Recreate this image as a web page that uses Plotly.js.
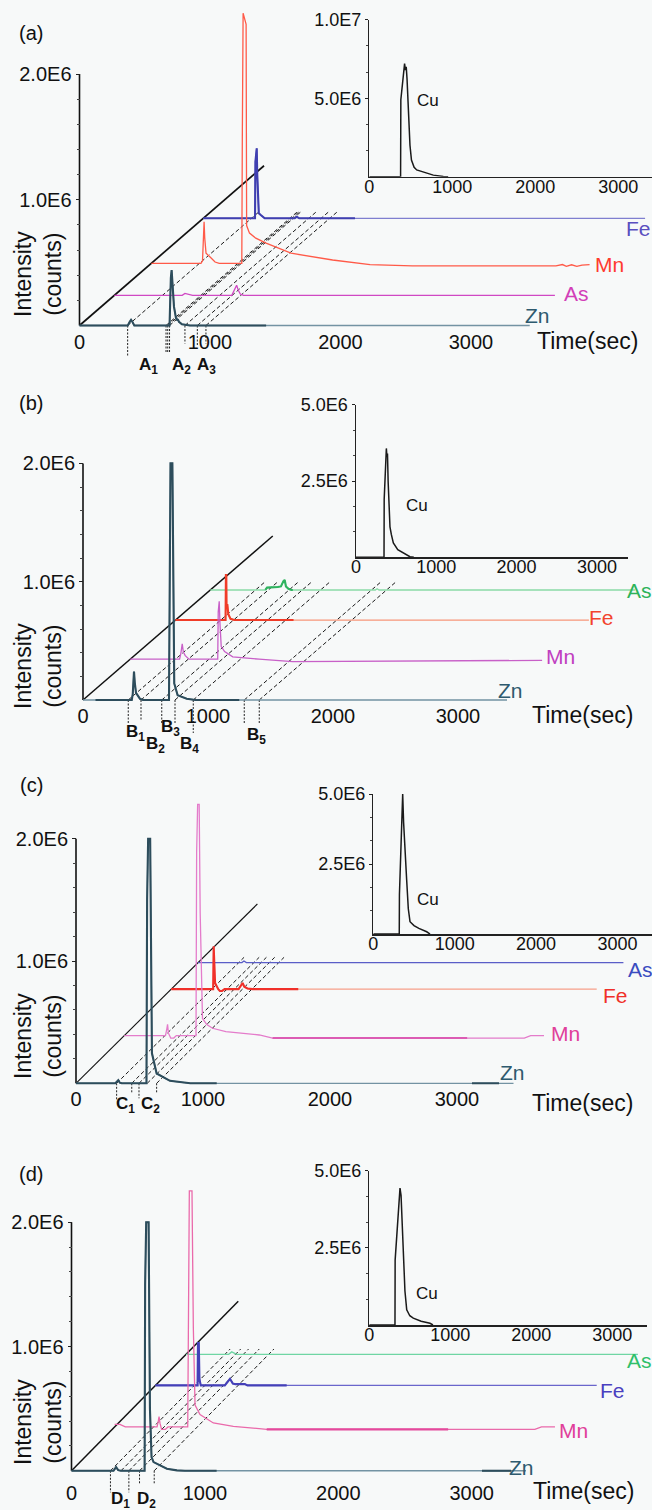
<!DOCTYPE html>
<html><head><meta charset="utf-8">
<script src="https://cdn.plot.ly/plotly-3.0.1.min.js"></script>
<style>html,body{margin:0;padding:0;background:#f7f9f9}</style>
</head><body><div id="chart" style="width:652px;height:1510px"></div>
<script>
// ================= DATA (time in s, intensity in millions of counts) =================
const xTickVals = [0, 1000, 2000, 3000];
const xTickText = ['0', '1000', '2000', '3000'];
const mainYTickVals = [1.0, 2.0];
const mainYTickText = ['1.0E6', '2.0E6'];
const insetYTickValsA = [5, 10];
const insetYTickTextA = ['5.0E6', '1.0E7'];
const insetYTickVals = [2.5, 5];
const insetYTickText = ['2.5E6', '5.0E6'];

// ---- panel (a) ----
const znA_t = [0, 370, 385, 395, 405, 420, 690, 694, 700, 706, 712, 718, 724, 739, 748, 755, 762, 785, 846, 3450];
const znA_i = [0, 0, 0.03, 0.045, 0.03, 0, 0, 0.2, 0.38, 0.44, 0.35, 0.25, 0.15, 0.06, 0.045, 0.045, 0.03, 0.01, 0, 0];
const asA_t = [0, 520, 541, 570, 600, 900, 920, 937, 950, 965, 990, 3376];
const asA_i = [0, 0, 0.015, 0.005, 0, 0, 0.04, 0.08, 0.04, 0.01, 0, 0];
const mnA_t = [0, 380, 392, 398, 404, 409, 419, 450, 488, 520, 693, 697, 703, 726, 730, 752, 800, 879, 1070, 1389, 1676, 2000, 3100, 3150, 3180, 3220, 3260, 3300, 3358];
const mnA_i = [0, 0, 0.02, 0.2, 0.33, 0.2, 0.08, 0.05, 0.01, 0, 0, 1.0, 1.99, 1.9, 0.3, 0.24, 0.2, 0.16, 0.08, 0.026, -0.01, -0.02, -0.02, -0.01, -0.025, -0.012, -0.025, -0.015, -0.01];
const feA_t = [0, 396, 399, 405, 409, 413, 418, 425, 440, 470, 700, 716, 735, 3385];
const feA_i = [0, 0, 0.45, 0.55, 0.557, 0.35, 0.15, 0.04, 0.026, 0, 0, 0.012, 0, 0];
const cuA_t = [0, 370, 377, 380, 395, 410, 425, 435, 445, 455, 470, 490, 508, 540, 571, 691, 771, 892, 950];
const cuA_i = [0, 0, 0, 4.9, 5.8, 6.8, 7.2, 6.8, 7.0, 6.2, 4.0, 2.0, 1.06, 0.6, 0.43, 0.25, 0.1, 0.02, 0];
const offsetA = {Zn: 0, As: 0.24, Mn: 0.495, Fe: 0.853};
const diagA = [1414, 1.271];
const dashA = [369, 663, 676, 690, 808, 903, 969];
const dashTopA = 0.913;
const dropA = [369, 663, 676, 690, 808, 903, 969];

// ---- panel (b) ----
const znB_t = [0, 390, 398, 405, 408, 414, 424, 456, 480, 688, 692, 700, 715, 726, 730, 757, 830, 900, 3392];
const znB_i = [0, 0, 0.05, 0.2, 0.24, 0.15, 0.06, 0.01, 0, 0, 1.2, 2.0, 2.0, 0.8, 0.14, 0.04, 0.01, 0, 0];
const mnB_t = [0, 395, 405, 416, 425, 440, 470, 700, 704, 712, 718, 728, 755, 820, 1030, 1300, 3295];
const mnB_i = [0, 0, 0.05, 0.13, 0.06, 0.03, 0, 0, 0.4, 0.49, 0.3, 0.107, 0.065, 0.02, 0, -0.02, -0.01];
const feB_t = [0, 400, 403, 406, 408, 414, 422, 440, 470, 3307];
const feB_i = [0, 0, 0.38, 0.38, 0.1, 0.135, 0.05, 0.01, 0, 0];
const asB_t = [0, 440, 454, 540, 565, 585, 595, 605, 625, 650, 1320, 1334, 1350, 3398];
const asB_i = [0, 0, 0.02, 0.025, 0.03, 0.075, 0.085, 0.03, 0.01, 0, 0, 0.01, 0, 0];
const cuB_t = [0, 345, 349, 351, 365, 378, 385, 392, 400, 412, 423, 440, 465, 520, 580, 631, 672, 720];
const cuB_i = [0, 0, 0, 1.9, 3.0, 3.57, 3.3, 3.4, 2.5, 1.5, 1.0, 0.75, 0.47, 0.25, 0.15, 0.08, 0.02, 0];
const offsetB = {Zn: 0, Mn: 0.345, Fe: 0.676, As: 0.93};
const diagB = [1518, 1.386];
const dashB = [362, 464, 630, 736, 882, 1290, 1410];
const dashTopB = 1.0;
const dropB = [362, 464, 630, 736, 882, 1290, 1410];

// ---- panel (c) ----
const znC_t = [0, 310, 333, 345, 360, 555, 560, 568, 584, 592, 598, 635, 740, 819, 900, 3445];
const znC_i = [0, 0, 0.025, 0.005, 0, 0, 1.5, 2.0, 2.0, 0.5, 0.245, 0.08, 0.02, 0.01, 0, 0];
const mnC_t = [0, 325, 336, 341, 348, 366, 390, 410, 565, 570, 578, 590, 598, 612, 616, 650, 695, 800, 1063, 1168, 3150, 3200, 3305];
const mnC_i = [0, 0, 0.06, 0.093, 0.02, -0.02, -0.02, 0, 0, 1.5, 1.89, 1.89, 1.0, 0.3, 0.14, 0.09, 0.06, 0.033, 0.005, -0.02, -0.02, 0, 0];
const feC_t = [0, 330, 334, 338, 345, 370, 383, 400, 420, 530, 550, 562, 575, 600, 640, 3350];
const feC_i = [0, 0, 0.35, 0.15, 0.05, 0, -0.015, -0.015, 0, 0, 0.03, 0.05, 0.02, 0.005, 0, 0];
const asC_t = [0, 345, 361, 380, 3349];
const asC_i = [0, 0, 0.013, 0, 0];
const cuC_t = [0, 315, 319, 321, 335, 350, 361, 372, 390, 410, 430, 451, 500, 560, 656, 697];
const cuC_i = [0, 0, 0, 1.4, 2.5, 4.2, 5.0, 4.0, 2.8, 1.93, 0.9, 0.44, 0.3, 0.2, 0.08, 0];
const offsetC = {Zn: 0, Mn: 0.39, Fe: 0.77, As: 0.987};
const diagC = [1428, 1.466];
const dashC = [320, 439, 496, 561, 635];
const dashTopC = 1.03;
const dropC = [320, 439, 496, 635];

// ---- panel (d) ----
const znD_t = [0, 315, 334, 350, 370, 548, 552, 560, 578, 588, 600, 615, 715, 790, 850, 3407];
const znD_i = [0, 0, 0.03, 0.005, 0, 0, 1.5, 2.0, 2.0, 0.5, 0.11, 0.07, 0.016, 0.003, 0, 0];
const mnD_t = [0, 40, 80, 318, 328, 333, 340, 352, 380, 400, 548, 553, 560, 580, 590, 603, 640, 740, 890, 1140, 3150, 3200, 3301];
const mnD_i = [0.02, 0.02, 0, 0, 0.05, 0.084, 0.03, -0.02, -0.02, 0, 0, 1.4, 1.9, 1.9, 0.8, 0.176, 0.1, 0.032, 0.005, -0.02, -0.02, 0, 0];
const feD_t = [0, 316, 319, 325, 330, 340, 520, 545, 559, 580, 600, 670, 690, 3308];
const feD_i = [0, 0, 0.34, 0.34, 0.05, 0, 0, 0.03, 0.053, 0.015, 0.01, 0.01, 0, 0];
const asD_t = [0, 320, 343, 365, 380, 3388];
const asD_i = [0, 0, 0.02, 0.005, 0, 0];
const cuD_t = [0, 313, 317, 319, 340, 360, 379, 392, 400, 420, 440, 462, 500, 543, 640, 749, 786];
const cuD_i = [0, 0, 0, 2.1, 3.0, 4.0, 4.43, 4.2, 3.72, 2.1, 1.1, 0.49, 0.3, 0.22, 0.12, 0.055, 0];
const offsetD = {Zn: 0, Mn: 0.353, Fe: 0.687, As: 0.937};
const diagD = [1250, 1.365];
const dashD = [292, 371, 430, 510, 620];
const dashTopD = 0.98;
const dropD = [292, 430, 510, 620];

// ================= LAYOUT / STYLE =================
const W = 652, H = 1510, M = 1e6;
const FONT = 'Liberation Sans, Arial, sans-serif';
const fx = p => p / W;
const fy = p => 1 - p / H;

const ZN_DARK = '#2d4d5c', ZN_THIN = '#7393a3';

const panels = [
  { tag: '(a)', tagPos: [31, 33], ox: 79.5, oy: 325.5, sx: 130.5, sy: 125.7, top: 0, diagW: 1.7,
    inset: {ox: 369.3, oy: 176.7, sx: 83, sy: 15.7, right: 652, ytop: 10, tv: insetYTickValsA, tt: insetYTickTextA, minor: [1.667, 3.333, 6.667, 8.333], cu: [cuA_t, cuA_i], cuLabel: [428, 100]},
    offsets: offsetA, diag: diagA, dash: dashA, dashTop: dashTopA, drops: dropA, dropPx: [30, 27, 27, 27, 18, 20, 18],
    series: [
      {name: 'Fe', t: feA_t, i: feA_i, thin: '#7f7fd0', thick: '#3f3fb0', ranges: [[0, 1162]], label: [638, 228], lc: '#5a4fc0'},
      {name: 'Mn', t: mnA_t, i: mnA_i, thin: '#ff5a48', thick: '#ff4535', ranges: [], label: [609, 264], lc: '#ff3b2f'},
      {name: 'As', t: asA_t, i: asA_i, thin: '#d048c4', thick: '#c030b8', ranges: [], label: [576, 294], lc: '#d23fb8'},
      {name: 'Zn', t: znA_t, i: znA_i, thin: ZN_THIN, thick: ZN_DARK, ranges: [[0, 1430]], label: [537, 316], lc: '#2e5a6e'}
    ],
    marks: [['A<sub>1</sub>', 148, 366], ['A<sub>2</sub>', 181, 366], ['A<sub>3</sub>', 206, 366]],
    timePos: [587, 341], intPos: 274 },
  { tag: '(b)', tagPos: [31, 403], ox: 83, oy: 700, sx: 125, sy: 118.3, top: 385, diagW: 1.5,
    inset: {ox: 356, oy: 557.3, sx: 80.3, sy: 30.5, right: 628, ytop: 5, tv: insetYTickVals, tt: insetYTickText, minor: [0.833, 1.667, 3.333, 4.167], cu: [cuB_t, cuB_i], cuLabel: [417, 505]},
    offsets: offsetB, diag: diagB, dash: dashB, dashTop: dashTopB, drops: dropB, dropPx: [23, 20, 23, 24, 33, 23, 23],
    series: [
      {name: 'As', t: asB_t, i: asB_i, thin: '#8adaa6', thick: '#2fb35f', ranges: [[440, 660]], label: [639, 590], lc: '#2db35a'},
      {name: 'Fe', t: feB_t, i: feB_i, thin: '#f8967a', thick: '#f03c28', ranges: [[0, 944]], label: [601, 617], lc: '#f2442e'},
      {name: 'Mn', t: mnB_t, i: mnB_i, thin: '#c860c8', thick: '#b040b0', ranges: [], label: [560, 657], lc: '#c040c0'},
      {name: 'Zn', t: znB_t, i: znB_i, thin: ZN_THIN, thick: ZN_DARK, ranges: [[100, 1250]], label: [510, 690], lc: '#2e5a6e'}
    ],
    marks: [['B<sub>1</sub>', 135, 733], ['B<sub>2</sub>', 155, 745], ['B<sub>3</sub>', 170, 728], ['B<sub>4</sub>', 189, 745], ['B<sub>5</sub>', 256, 736]],
    timePos: [582, 715], intPos: 666 },
  { tag: '(c)', tagPos: [31, 785], ox: 76, oy: 1083.3, sx: 127, sy: 122.3, top: 770, diagW: 1.1,
    inset: {ox: 373.3, oy: 934, sx: 81.4, sy: 28, right: 652, ytop: 5, tv: insetYTickVals, tt: insetYTickText, minor: [0.833, 1.667, 3.333, 4.167], cu: [cuC_t, cuC_i], cuLabel: [428, 899]},
    offsets: offsetC, diag: diagC, dash: dashC, dashTop: dashTopC, drops: dropC, dropPx: [17, 10, 15, 10],
    series: [
      {name: 'As', t: asC_t, i: asC_i, thin: '#5a5ec8', thick: '#3a40b8', ranges: [], label: [640, 969], lc: '#3a4cc0'},
      {name: 'Fe', t: feC_t, i: feC_i, thin: '#f8a08a', thick: '#f0302a', ranges: [[0, 1000]], label: [615, 996], lc: '#f0302a'},
      {name: 'Mn', t: mnC_t, i: mnC_i, thin: '#e47ccb', thick: '#dc5cb4', ranges: [[1168, 2700]], label: [565, 1033], lc: '#e0409a'},
      {name: 'Zn', t: znC_t, i: znC_i, thin: ZN_THIN, thick: ZN_DARK, ranges: [[0, 1108], [3118, 3331]], label: [512, 1072], lc: '#2e5a6e'}
    ],
    marks: [['C<sub>1</sub>', 125, 1105], ['C<sub>2</sub>', 150, 1105]],
    timePos: [582, 1103], intPos: 1036 },
  { tag: '(d)', tagPos: [31, 1174], ox: 71.5, oy: 1477, sx: 133.4, sy: 126.7, top: 1155, diagW: 1.5,
    inset: {ox: 369.3, oy: 1325, sx: 81, sy: 30.9, right: 647, ytop: 5, tv: insetYTickVals, tt: insetYTickText, minor: [0.833, 1.667, 3.333, 4.167], cu: [cuD_t, cuD_i], cuLabel: [427, 1293]},
    offsets: offsetD, diag: diagD, dash: dashD, dashTop: dashTopD, drops: dropD, dropPx: [22, 22, 14, 14],
    series: [
      {name: 'As', t: asD_t, i: asD_i, thin: '#6fd6a4', thick: '#30b870', ranges: [], label: [639, 1360], lc: '#2fbf6a'},
      {name: 'Fe', t: feD_t, i: feD_i, thin: '#6a66cc', thick: '#4440b8', ranges: [[0, 984]], label: [612, 1390], lc: '#4a40c0'},
      {name: 'Mn', t: mnD_t, i: mnD_i, thin: '#ea6aab', thick: '#e44a9c', ranges: [[1140, 2500]], label: [573, 1430], lc: '#e0409a'},
      {name: 'Zn', t: znD_t, i: znD_i, thin: ZN_THIN, thick: ZN_DARK, ranges: [[0, 1088], [3077, 3295]], label: [521, 1467], lc: '#2e5a6e'}
    ],
    marks: [['D<sub>1</sub>', 120, 1500], ['D<sub>2</sub>', 146, 1500]],
    timePos: [583, 1491], intPos: 1422 }
];

function interp(t, v, x) {
  for (let k = 0; k < t.length - 1; k++) {
    if (x >= t[k] && x <= t[k + 1]) {
      const f = (t[k + 1] === t[k]) ? 0 : (x - t[k]) / (t[k + 1] - t[k]);
      return v[k] + f * (v[k + 1] - v[k]);
    }
  }
  return v[v.length - 1];
}
function segment(t, v, a, b) {
  const xs = [a], ys = [interp(t, v, a)];
  for (let k = 0; k < t.length; k++) if (t[k] > a && t[k] < b) { xs.push(t[k]); ys.push(v[k]); }
  xs.push(b); ys.push(interp(t, v, b));
  return [xs, ys];
}

const traces = [];
const layout = {
  width: W, height: H, margin: {l: 0, r: 0, t: 0, b: 0},
  paper_bgcolor: '#f7f9f9', plot_bgcolor: 'rgba(0,0,0,0)',
  showlegend: false, font: {family: FONT, color: '#111'},
  annotations: []
};
function ann(text, px, py, size, color, extra) {
  return Object.assign({xref: 'paper', yref: 'paper', x: fx(px), y: fy(py), text: text, showarrow: false,
    xanchor: 'center', yanchor: 'middle', font: {family: FONT, size: size, color: color}}, extra || {});
}
function line(x, y, xa, ya, color, width, dash) {
  traces.push({type: 'scatter', mode: 'lines', x: x, y: y, xaxis: xa, yaxis: ya,
    line: {color: color, width: width, dash: dash || 'solid'}, hoverinfo: 'skip', showlegend: false});
}

panels.forEach((p, idx) => {
  const nm = 2 * idx + 1, ni = 2 * idx + 2;
  const xa = 'x' + (nm > 1 ? nm : ''), ya = 'y' + (nm > 1 ? nm : '');
  const xi = 'x' + ni, yi = 'y' + ni;
  const padL = 12, padB = 40;
  // main axes
  layout['xaxis' + (nm > 1 ? nm : '')] = {
    domain: [fx(p.ox - padL), 1], range: [-padL / p.sx * 1000, (W - p.ox) / p.sx * 1000],
    anchor: 'free', position: fy(p.oy), tickmode: 'array', tickvals: xTickVals, ticktext: xTickText,
    ticks: '', showline: false, showgrid: false, zeroline: false, ticklabelstandoff: 2,
    tickfont: {family: FONT, size: 20, color: '#111'}
  };
  layout['yaxis' + (nm > 1 ? nm : '')] = {
    domain: [fy(p.oy + padB), fy(p.top)], range: [-padB / p.sy * M, (p.oy - p.top) / p.sy * M],
    anchor: 'free', position: fx(p.ox), tickmode: 'array', tickvals: mainYTickVals.map(v => v * M), ticktext: mainYTickText,
    ticks: 'outside', ticklen: 4, tickcolor: '#222', showline: false, showgrid: false, zeroline: false,
    minor: {tickmode: 'array', tickvals: [0.2, 0.4, 0.6, 0.8, 1.2, 1.4, 1.6, 1.8].map(v => v * M), ticks: 'outside', ticklen: 3, tickcolor: '#444'},
    tickfont: {family: FONT, size: 20, color: '#111'}
  };
  // inset axes
  const I = p.inset;
  layout['xaxis' + ni] = {
    domain: [fx(I.ox), fx(I.right)], range: [0, (I.right - I.ox) / I.sx * 1000], anchor: yi,
    tickmode: 'array', tickvals: xTickVals, ticktext: xTickText, ticks: '', showline: true, linecolor: '#222', linewidth: 1.5,
    showgrid: false, zeroline: false, ticklabelstandoff: -7, tickfont: {family: FONT, size: 18, color: '#111'}
  };
  layout['yaxis' + ni] = {
    domain: [fy(I.oy), fy(I.oy - I.ytop * I.sy)], range: [0, I.ytop * M], anchor: xi,
    tickmode: 'array', tickvals: I.tv.map(v => v * M), ticktext: I.tt, ticks: 'outside', ticklen: 3, tickcolor: '#222',
    showline: true, linecolor: '#222', linewidth: 1.5, showgrid: false, zeroline: false,
    minor: {tickmode: 'array', tickvals: I.minor.map(v => v * M), ticks: 'outside', ticklen: 2, tickcolor: '#444'},
    tickfont: {family: FONT, size: 18, color: '#111'}
  };

  const ratio = p.diag[0] / p.diag[1]; // seconds of shift per million counts of offset
  // y axis line & diagonal
  line([0, 0], [0, 2 * M], xa, ya, '#111', 1.6);
  line([0, p.diag[0]], [0, p.diag[1] * M], xa, ya, '#111', p.diagW);
  // dashed guides
  p.dash.forEach(t => line([t, t + p.dashTop * ratio], [0, p.dashTop * M], xa, ya, '#1a1a1a', 1, '4px,2.5px'));
  p.drops.forEach((t, k) => line([t, t], [0, -p.dropPx[k] / p.sy * M], xa, ya, '#222', 1, '2px,1.5px'));
  // series (back to front)
  p.series.forEach(s => {
    const off = p.offsets[s.name];
    const dx = off * ratio;
    line(s.t.map(v => v + dx), s.i.map(v => (v + off) * M), xa, ya, s.thin, 1.3);
    s.ranges.forEach(r => {
      const seg = segment(s.t, s.i, r[0], r[1]);
      line(seg[0].map(v => v + dx), seg[1].map(v => (v + off) * M), xa, ya, s.thick, 2.1);
    });
    layout.annotations.push(ann(s.name, s.label[0], s.label[1], 21, s.lc));
  });
  // inset Cu
  line(I.cu[0], I.cu[1].map(v => v * M), xi, yi, '#1a1a1a', 1.5);
  layout.annotations.push(ann('Cu', I.cuLabel[0], I.cuLabel[1], 17, '#111'));
  // texts
  layout.annotations.push(ann(p.tag, p.tagPos[0], p.tagPos[1], 20, '#111'));
  layout.annotations.push(ann('Time(sec)', p.timePos[0], p.timePos[1], 23, '#111'));
  layout.annotations.push(ann('Intensity<br>(counts)', 38, p.intPos, 23, '#111', {textangle: -90}));
  p.marks.forEach(m => layout.annotations.push(ann('<b>' + m[0] + '</b>', m[1], m[2], 17, '#111')));
});

Plotly.newPlot('chart', traces, layout, {staticPlot: true, displayModeBar: false});
</script>
</body></html>
